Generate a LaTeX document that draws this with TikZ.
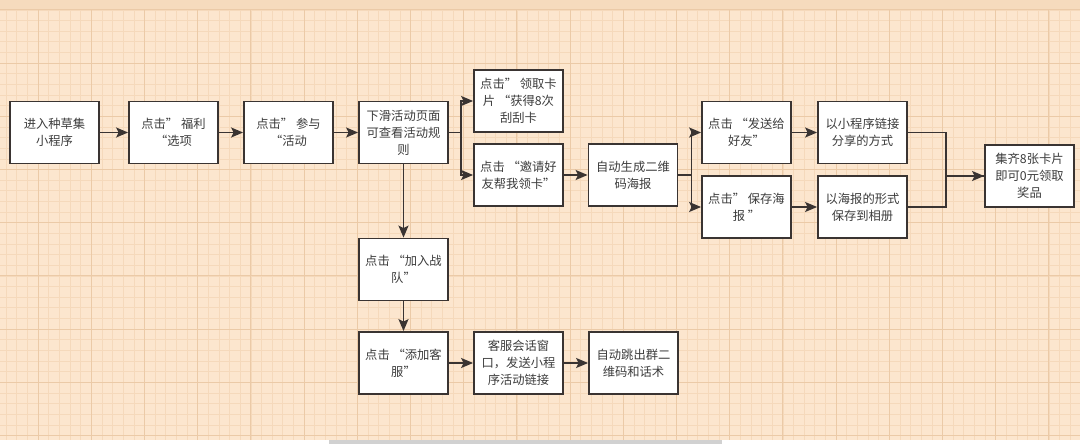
\documentclass[tikz,border=0pt]{standalone}
\usepackage{fontspec}
\setmainfont{Noto Sans CJK SC}
\usetikzlibrary{arrows.meta}
\definecolor{paper}{HTML}{FCE6CE}
\definecolor{paperdark}{HTML}{F6DBBD}
\definecolor{gridminor}{HTML}{F5D9BB}
\definecolor{gridmajor}{HTML}{EBCAA7}
\definecolor{boxline}{HTML}{3A3432}
\definecolor{boxtext}{HTML}{3C3C3C}
\tikzset{
  flowbox/.style={draw=boxline, line width=1.8pt, fill=white, text=boxtext,
    minimum width=89pt, minimum height=62pt, inner sep=2pt, align=center,
    font=\fontsize{12.3}{17}\selectfont},
  flowarrow/.style={draw=boxline, line width=1.8pt,
    -{Stealth[length=12pt,width=10pt,inset=2.5pt]}},
  flowline/.style={draw=boxline, line width=1.8pt}
}
\begin{document}
\begin{tikzpicture}[x=1pt,y=-1pt]
  \useasboundingbox (0,0) rectangle (1080,444);
  % background grid
  \fill[paper] (0,0) rectangle (1080,444);
  \fill[paperdark] (0,0) rectangle (1080,10);
  \foreach \i in {-3,...,98} {
    \draw[gridminor, line width=0.5pt] (38+10.64*\i,10) -- (38+10.64*\i,440);
  }
  \foreach \j in {-5,...,35} {
    \draw[gridminor, line width=0.5pt] (0,63+10.64*\j) -- (1080,63+10.64*\j);
  }
  \foreach \i in {0,...,19} {
    \draw[gridmajor, line width=0.8pt] (38+53.2*\i,10) -- (38+53.2*\i,440);
  }
  \foreach \j in {-1,...,7} {
    \draw[gridmajor, line width=0.8pt] (0,63+53.2*\j) -- (1080,63+53.2*\j);
  }
  \fill[white] (0,440) rectangle (1080,444);
  \fill[black!18] (329,440) rectangle (722,444);

  % boxes
  \node[flowbox] (enter) at (54.5,132.5) {进入种草集\\小程序};
  \node[flowbox] (welfare) at (173.5,132.5) {点击” 福利\\“选项};
  \node[flowbox] (join) at (288.5,132.5) {点击” 参与\\“活动};
  \node[flowbox] (rules) at (403.5,132.5) {下滑活动页面\\可查看活动规\\则};
  \node[flowbox] (card) at (518.5,101) {点击” 领取卡\\片 “获得8次\\刮刮卡};
  \node[flowbox] (invite) at (518.5,175) {点击 “邀请好\\友帮我领卡”};
  \node[flowbox] (poster) at (633,175) {自动生成二维\\码海报};
  \node[flowbox] (send) at (746.5,132.5) {点击 “发送给\\好友”};
  \node[flowbox] (link) at (862.5,132.5) {以小程序链接\\分享的方式};
  \node[flowbox] (save) at (746.5,207) {点击” 保存海\\报 ”};
  \node[flowbox] (album) at (862.5,207) {以海报的形式\\保存到相册};
  \node[flowbox] (prize) at (1029.5,176) {集齐8张卡片\\即可0元领取\\奖品};
  \node[flowbox] (team) at (403.5,269.5) {点击 “加入战\\队”};
  \node[flowbox] (service) at (403.5,363) {点击 “添加客\\服”};
  \node[flowbox] (chat) at (518.5,363) {客服会话窗\\口，发送小程\\序活动链接};
  \node[flowbox] (group) at (633.5,363) {自动跳出群二\\维码和话术};

  % connectors
  \draw[flowarrow] (enter) -- (welfare);
  \draw[flowarrow] (welfare) -- (join);
  \draw[flowarrow] (join) -- (rules);
  \draw[flowarrow] (rules.east) -- ++(12,0) |- (card.west);
  \draw[flowarrow] (rules.east) -- ++(12,0) |- (invite.west);
  \draw[flowarrow] (invite) -- (poster);
  \draw[flowarrow] (poster.east) -- ++(13,0) |- (send.west);
  \draw[flowarrow] (poster.east) -- ++(13,0) |- (save.west);
  \draw[flowarrow] (send) -- (link);
  \draw[flowarrow] (save) -- (album);
  \draw[flowline] (album.east) -- ++(38,0) |- (prize.west);
  \draw[flowarrow] (link.east) -- ++(38,0) |- (prize.west);
  \draw[flowarrow] (rules) -- (team);
  \draw[flowarrow] (team) -- (service);
  \draw[flowarrow] (service) -- (chat);
  \draw[flowarrow] (chat) -- (group);
\end{tikzpicture}
\end{document}
